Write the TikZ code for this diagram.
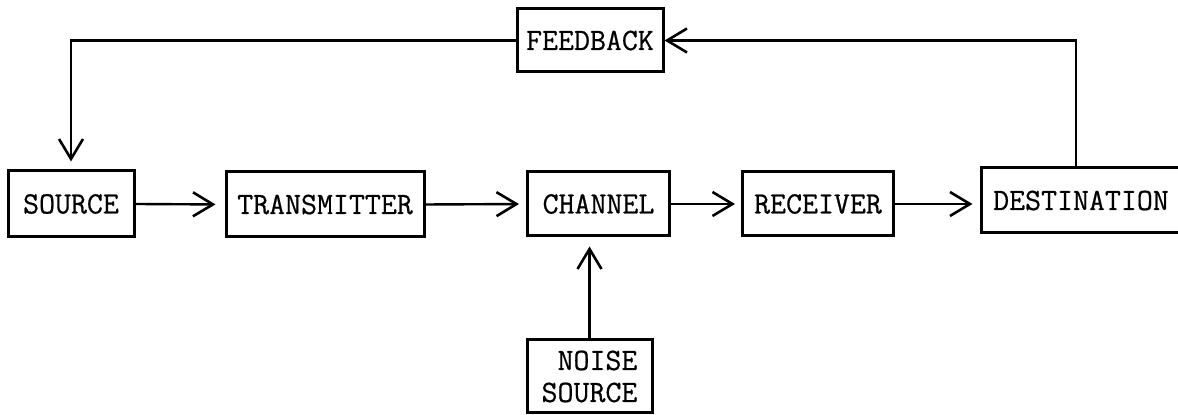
\documentclass[tikz,border=0pt]{standalone}
\usepackage{fontspec}
\newfontfamily\blockfont{Latin Modern Mono}[FakeBold=0.6]
\usetikzlibrary{arrows.meta}

\tikzset{
    block/.style={draw, line width=1.5pt, inner sep=0pt, align=center,
        font=\fontsize{15.5}{16}\blockfont\selectfont},
    link/.style={line width=1.2pt, -{Straight Barb[length=10pt, width=12pt, line width=1.3pt]}},
}

\begin{document}
\begin{tikzpicture}[x=0.5pt, y=-0.5pt]

            % the frame
            \path[use as bounding box, clip] (0, 0) rectangle (1178, 415);

            % the main chain
            \node[block, minimum width=63pt, minimum height=33pt] (src) at (71, 204) {SOURCE};
            \node[block, minimum width=99pt, minimum height=32.5pt] (trans) at (325, 204.5) {TRANSMITTER};
            \node[block, minimum width=71pt, minimum height=32pt] (chan) at (598.5, 204) {CHANNEL};
            \node[block, minimum width=75.5pt, minimum height=32pt] (recv) at (818, 204) {RECEIVER};
            \node[block, minimum width=100pt, minimum height=32.5pt] (dest) at (1081, 200.5) {DESTINATION};

            % feedback and noise
            \node[block, minimum width=73pt, minimum height=31.5pt] (fb) at (590, 40.5) {FEEDBACK};
            \node[block, align=right, minimum width=62.5pt, minimum height=36.5pt] (noise) at (589.5, 376.5) {NOISE\\SOURCE};

            % the arrows
            \draw[link, shorten >=4.5pt] (src.east) -- (trans.west);
            \draw[link, shorten >=3.5pt] (trans.east) -- (chan.west);
            \draw[link, shorten >=3pt] (chan.east) -- (recv.west);
            \draw[link, shorten >=3.5pt] (recv.east) -- (recv.east -| dest.west);
            \draw[link] ([xshift=-2.5pt]dest.north) |- (fb.east);
            \draw[link, shorten >=4pt] (fb.west) -| (src.north);
            \draw[link, shorten >=4.5pt] (noise.north) -- (noise.north |- chan.south);
        \end{tikzpicture}
\end{document}
